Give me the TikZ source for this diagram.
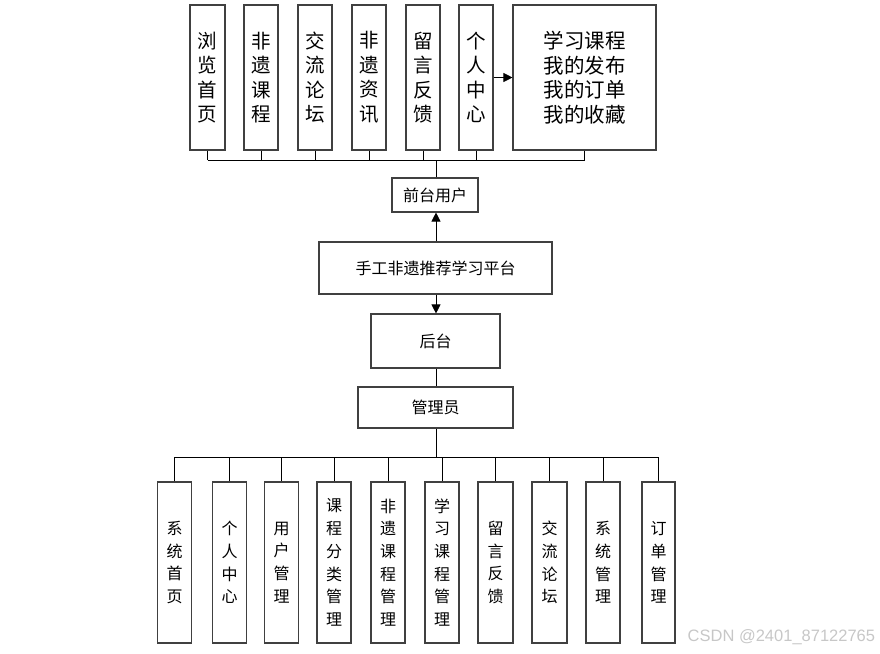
\documentclass[tikz,border=0pt]{standalone}
\usepackage{fontspec}
\setmainfont{Noto Sans CJK SC}
\newfontfamily\wmfont{Liberation Sans}
\usetikzlibrary{arrows.meta}

\begin{document}
\begin{tikzpicture}[x=1pt,y=-1pt,line width=0.8pt,
            box/.style={draw=black!75,line width=1.1pt,fill=white,inner sep=0pt,align=center},
            tallbox/.style={box,minimum width=34pt,minimum height=145pt,font=\fontsize{19.5}{24.5}\selectfont},
            lowbox/.style={box,minimum width=34pt,minimum height=161pt,font=\fontsize{16}{22.7}\selectfont},
            midbox/.style={box,font=\fontsize{16}{20}\selectfont},
            arr/.style={-{Triangle[length=9pt,width=9pt]}}]
            \useasboundingbox (0,0) rectangle (880,653);

            \node[tallbox,minimum width=35pt] (t1) at(207.5,77.5) {浏\\览\\首\\页};
            \node[tallbox] (t2) at(261,77.5) {非\\遗\\课\\程};
            \node[tallbox] (t3) at(315,77.5) {交\\流\\论\\坛};
            \node[tallbox] (t4) at(369,77.5) {非\\遗\\资\\讯};
            \node[tallbox] (t5) at(423,77.5) {留\\言\\反\\馈};
            \node[tallbox] (t6) at(476,77.5) {个\\人\\中\\心};
            \node[tallbox,minimum width=143pt,font=\fontsize{20.5}{24.5}\selectfont] (big) at(584.5,77.5) {学习课程\\我的发布\\我的订单\\我的收藏};

            \node[midbox,minimum width=86pt,minimum height=34pt] (front) at(435,195) {前台用户};
            \node[midbox,minimum width=233pt,minimum height=52pt] (plat) at(435.5,268) {手工非遗推荐学习平台};
            \node[midbox,minimum width=129pt,minimum height=54pt] (back) at(435.5,341) {后台};
            \node[midbox,minimum width=155pt,minimum height=41pt] (admin) at(435.5,407.5) {管理员};

            \node[lowbox] (b1) at(174.5,562.5) {系\\统\\首\\页};
            \node[lowbox] (b2) at(229.5,562.5) {个\\人\\中\\心};
            \node[lowbox] (b3) at(281.5,562.5) {用\\户\\管\\理};
            \node[lowbox] (b4) at(334,562.5) {课\\程\\分\\类\\管\\理};
            \node[lowbox] (b5) at(388,562.5) {非\\遗\\课\\程\\管\\理};
            \node[lowbox] (b6) at(442,562.5) {学\\习\\课\\程\\管\\理};
            \node[lowbox,minimum width=35pt] (b7) at(495.5,562.5) {留\\言\\反\\馈};
            \node[lowbox,minimum width=35pt] (b8) at(549.5,562.5) {交\\流\\论\\坛};
            \node[lowbox] (b9) at(603,562.5) {系\\统\\管\\理};
            \node[lowbox,minimum width=33pt] (b10) at(658.5,562.5) {订\\单\\管\\理};

            \coordinate (tbus) at(436,160);
            \coordinate (bbus) at(436,457);

            \foreach \n in {t1,t2,t3,t4,t5,t6,big}
                \draw (\n.south) -- (\n.south |- tbus);
            \draw (t1.south |- tbus) -- (big.south |- tbus);
            \draw (front.north -| tbus) -- (tbus);
            \draw[arr] (t6.east) -- (big.west);
            \draw[arr] (plat.north -| tbus) -- (front.south -| tbus);
            \draw[arr] (plat.south -| tbus) -- (back.north -| tbus);
            \draw (back.south -| tbus) -- (admin.north -| tbus);
            \draw (admin.south -| bbus) -- (bbus);
            \foreach \n in {b1,b2,b3,b4,b5,b6,b7,b8,b9,b10}
                \draw (\n.north) -- (\n.north |- bbus);
            \draw (b1.north |- bbus) -- (b10.north |- bbus);

            \node[anchor=base west,text=black!22,font=\wmfont\fontsize{16.5}{18}\selectfont] (mark) at(684,641) {CSDN @2401\_87122765};
\end{tikzpicture}
\end{document}
